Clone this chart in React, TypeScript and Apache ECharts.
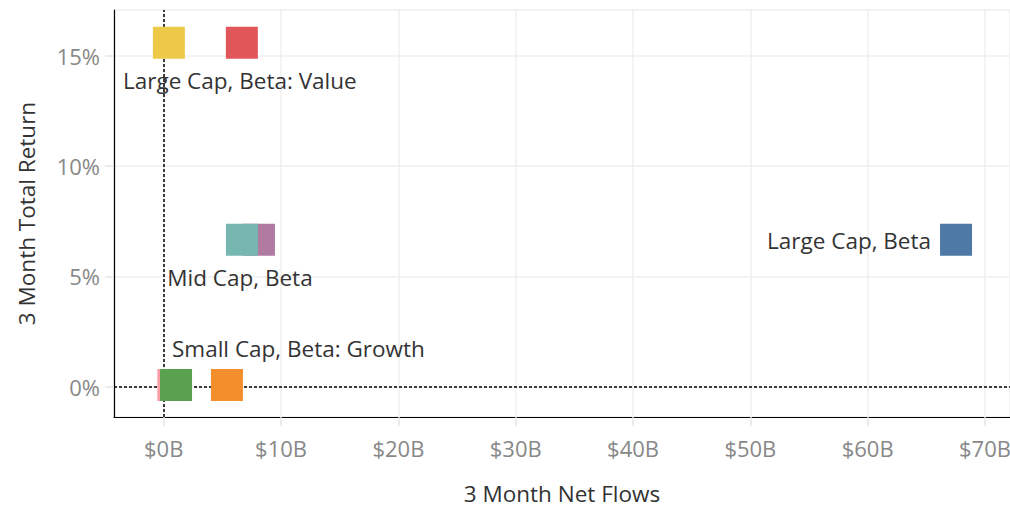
import React, { useEffect, useRef } from "react";
import * as echarts from "echarts";

const names = [
  "Yellow",
  "Large Cap, Beta: Value",
  "Purple",
  "Mid Cap, Beta",
  "Large Cap, Beta",
  "Pink",
  "Small Cap, Beta: Growth",
  "Orange",
];
const labels = ["", "Large Cap, Beta: Value", "", "Mid Cap, Beta", "Large Cap, Beta", "", "Small Cap, Beta: Growth", ""];
const netFlows = [0.44, 6.66, 8.12, 6.67, 67.53, 0.82, 1.05, 5.39];
const totalReturn = [15.6, 15.6, 6.66, 6.66, 6.66, 0.08, 0.08, 0.08];
const colors = ["#EDC948", "#E15759", "#B07AA1", "#76B7B2", "#4E79A7", "#FF9DA7", "#59A14F", "#F28E2B"];

const FONT = "Open Sans";

const labelStyles: Record<string, any> = {
  "Large Cap, Beta: Value": { position: [14, 54], align: "center", verticalAlign: "middle" },
  "Mid Cap, Beta": { position: [14, 54], align: "center", verticalAlign: "middle" },
  "Large Cap, Beta": { position: [-9, 17], align: "right", verticalAlign: "middle" },
  "Small Cap, Beta: Growth": { position: [12, -20], align: "left", verticalAlign: "middle" },
};

export default function App() {
  const ref = useRef<HTMLDivElement>(null);
  useEffect(() => {
    if (!ref.current) return;
    const chart = echarts.init(ref.current, null, { renderer: "svg" });
    const data = names.map((n, i) => {
      const lab = labels[i];
      return {
        name: n,
        value: [netFlows[i], totalReturn[i]],
        itemStyle: { color: colors[i], opacity: 1 },
        label: lab
          ? {
              show: true,
              formatter: lab,
              color: "#333333",
              fontFamily: FONT,
              fontSize: 22.5,
              ...labelStyles[lab],
            }
          : { show: false },
      };
    });
    chart.setOption({
      animation: false,
      backgroundColor: "#ffffff",
      grid: { left: 114, top: 10, width: 896, height: 407, outerBoundsMode: "none", containLabel: false },
      xAxis: {
        type: "value",
        min: -4.236,
        max: 72.13,
        minInterval: 10,
        maxInterval: 10,
        name: "3 Month Net Flows",
        nameLocation: "middle",
        nameGap: 65,
        nameTextStyle: { color: "#333333", fontFamily: FONT, fontSize: 22.5 },
        axisLine: { show: true, onZero: false, lineStyle: { color: "#000", width: 1.2 } },
        axisTick: { show: true, length: 9, lineStyle: { color: "#e4e4e4", width: 1.5 } },
        splitLine: { show: true, lineStyle: { color: "#efefef", width: 1.5 } },
        axisLabel: {
          margin: 20,
          color: "#888888",
          fontFamily: FONT,
          fontSize: 22,
          showMinLabel: false,
          showMaxLabel: false,
          formatter: (v: number) => (Math.abs(v % 10) < 1e-6 ? `$${v}B` : ""),
        },
      },
      yAxis: {
        type: "value",
        min: -1.374,
        max: 17.08,
        minInterval: 5,
        maxInterval: 5,
        name: "3 Month Total Return",
        nameLocation: "middle",
        nameGap: 76,
        nameTextStyle: { color: "#333333", fontFamily: FONT, fontSize: 22.5 },
        axisLine: { show: true, onZero: false, lineStyle: { color: "#000", width: 1.2 } },
        axisTick: { show: true, length: 9, lineStyle: { color: "#e4e4e4", width: 1.5 } },
        splitLine: { show: true, lineStyle: { color: "#efefef", width: 1.5 } },
        axisLabel: {
          margin: 14,
          color: "#888888",
          fontFamily: FONT,
          fontSize: 22,
          showMinLabel: false,
          showMaxLabel: false,
          formatter: (v: number) => (Math.abs(v % 5) < 1e-6 ? `${v}%` : ""),
        },
      },
      series: [
        {
          type: "scatter",
          symbol: "rect",
          symbolSize: 32,
          data,
          emphasis: { disabled: true },
          markLine: {
            silent: true,
            symbol: "none",
            label: { show: false },
            lineStyle: { color: "#000", type: [3, 2], width: 1.5 },
            data: [{ xAxis: 0 }, { yAxis: 0 }],
            z: 1,
          },
          z: 3,
        },
      ],
    });
    return () => chart.dispose();
  }, []);
  return <div ref={ref} style={{ position: "fixed", left: 0, top: 0, width: 1010, height: 509 }} />;
}
